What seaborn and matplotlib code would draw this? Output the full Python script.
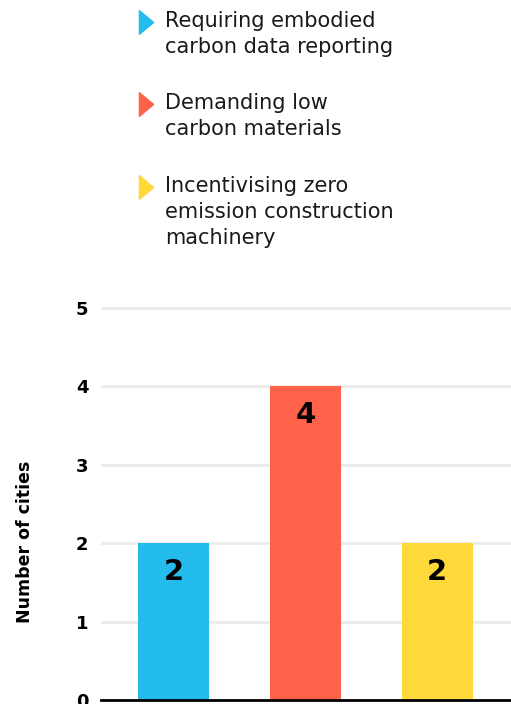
import matplotlib
matplotlib.use("Agg")
import matplotlib.pyplot as plt
import seaborn as sns
from matplotlib.lines import Line2D
from matplotlib.path import Path

categories = [
    "Requiring embodied\ncarbon data reporting",
    "Demanding low\ncarbon materials",
    "Incentivising zero\nemission construction\nmachinery",
]
values = [2, 4, 2]
colors = ["#23BCEC", "#FF624A", "#FFD83A"]
y_ticks = [0, 1, 2, 3, 4, 5]
y_label = "Number of cities"

sns.set_theme(style="white")
plt.rcParams["font.family"] = ["DejaVu Sans"]
plt.rcParams["text.color"] = "black"

fig = plt.figure(figsize=(5.11, 7.04), dpi=100)
ax = fig.add_axes([101 / 511, 4 / 704, 410 / 511, 396 / 704])

sns.barplot(
    x=list(range(len(categories))),
    y=values,
    hue=list(range(len(categories))),
    palette=colors,
    width=0.54,
    legend=False,
    saturation=1,
    linewidth=0,
    ax=ax,
    zorder=3,
)

ax.set_xlim(-0.55, 2.56)
ax.set_ylim(0, 5.05)
ax.set_yticks(y_ticks)
ax.set_yticklabels([str(t) for t in y_ticks], fontsize=13,
                   fontweight="bold", color="black")
ax.tick_params(axis="y", length=0, pad=9)
ax.set_xticks([])
ax.set_xlabel("")
ax.yaxis.grid(True, color="#EBEBEB", linewidth=2)
ax.set_axisbelow(True)
for side in ["top", "right", "left"]:
    ax.spines[side].set_visible(False)
ax.spines["bottom"].set_color("black")
ax.spines["bottom"].set_linewidth(2)
ax.spines["bottom"].set_zorder(5)

ax.set_ylabel(y_label, fontsize=12.5, fontweight="bold", color="black")
ax.yaxis.set_label_coords(-0.163, 0.40)

for i, v in enumerate(values):
    ax.text(i, v - 0.37, str(v), ha="center", va="center",
            fontsize=21, fontweight="bold", color="black", zorder=4)

# narrow pointer triangle used as legend marker
tri = Path([(-0.6, -1), (0.6, 0), (-0.6, 1), (-0.6, -1)],
           [Path.MOVETO, Path.LINETO, Path.LINETO, Path.CLOSEPOLY])

tops = [11, 93, 176]
for cat, col, top in zip(categories, colors, tops):
    y_tri = 1 - (top + 11) / 704
    fig.add_artist(Line2D([146 / 511], [y_tri], marker=tri, markersize=17,
                          color=col, linestyle="none",
                          transform=fig.transFigure))
    fig.text(165 / 511, 1 - top / 704, cat, ha="left", va="top",
             fontsize=15, color="#1a1a1a", linespacing=1.36)

fig.savefig("out.png", dpi=100)
